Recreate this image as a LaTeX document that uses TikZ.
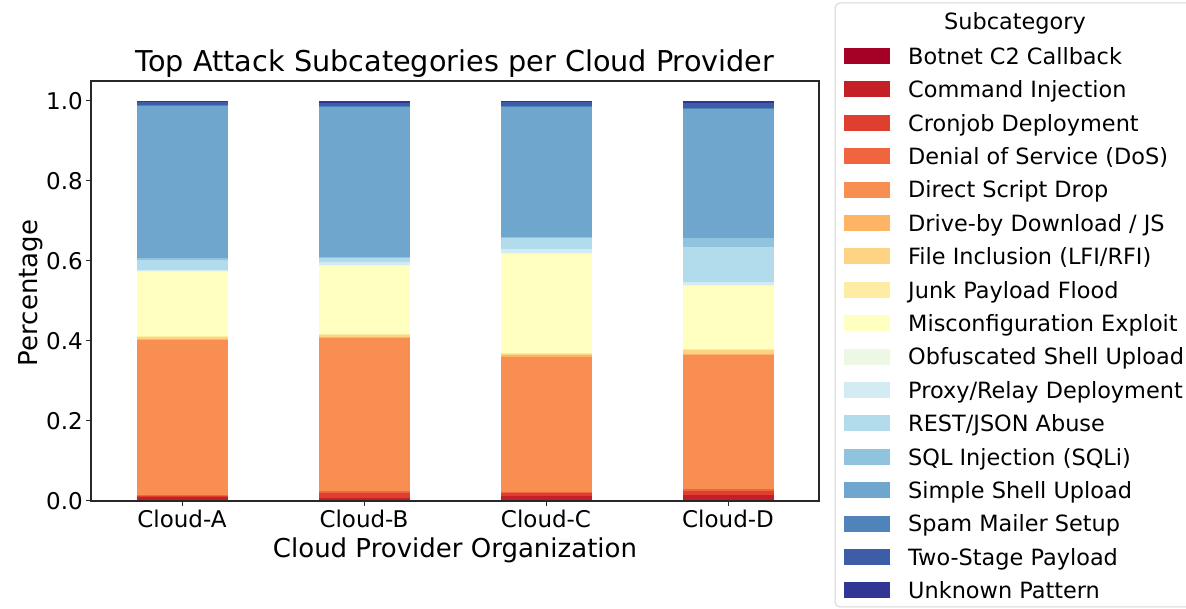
\documentclass[tikz,border=0pt]{standalone}
\usepackage{fontspec}
\setmainfont{DejaVu Sans}
% RdYlBu palette, 17 steps
\definecolor{c1}{RGB}{165,0,38}
\definecolor{c2}{RGB}{196,30,39}
\definecolor{c3}{RGB}{222,63,46}
\definecolor{c4}{RGB}{240,101,63}
\definecolor{c5}{RGB}{249,142,82}
\definecolor{c6}{RGB}{253,180,103}
\definecolor{c7}{RGB}{254,212,132}
\definecolor{c8}{RGB}{254,236,162}
\definecolor{c9}{RGB}{255,255,191}
\definecolor{c10}{RGB}{236,248,227}
\definecolor{c11}{RGB}{211,236,244}
\definecolor{c12}{RGB}{178,220,235}
\definecolor{c13}{RGB}{144,195,221}
\definecolor{c14}{RGB}{110,166,205}
\definecolor{c15}{RGB}{81,131,187}
\definecolor{c16}{RGB}{62,93,168}
\definecolor{c17}{RGB}{49,54,149}
\definecolor{spine}{RGB}{40,40,40}
\definecolor{legframe}{RGB}{214,214,214}
\tikzset{
  ticklab/.style={inner sep=0pt, font=\fontsize{23}{23}\selectfont},
  axlab/.style={inner sep=0pt, font=\fontsize{26}{26}\selectfont},
  titlelab/.style={inner sep=0pt, font=\fontsize{28.7}{28.7}\selectfont},
  leglab/.style={inner sep=0pt, anchor=base west, font=\fontsize{22.4}{22.4}\selectfont},
  tickline/.style={draw=spine, line width=1pt},
}
\begin{document}
\begin{tikzpicture}[x=1pt,y=1pt]
\useasboundingbox (0,0) rectangle (1186,609);
\fill[white] (0,0) rectangle (1186,609);

% stacked bars: cumulative tops of the 17 subcategories (value v sits at y = 108 + 400 v)
\foreach \cx/\tops in {
  182/{0.003,0.010,0.014,0.016,0.4025,0.405,0.4115,0.413,0.573,0.574,0.577,0.603,0.608,0.988,0.989,0.997,1.0},
  364/{0.002,0.007,0.019,0.025,0.408,0.411,0.416,0.418,0.590,0.591,0.597,0.607,0.609,0.9875,0.988,0.996,1.0},
  546/{0.002,0.0125,0.019,0.023,0.361,0.364,0.369,0.371,0.617,0.619,0.629,0.659,0.660,0.986,0.987,0.998,1.0},
  728/{0.003,0.015,0.025,0.029,0.365,0.368,0.3775,0.379,0.538,0.540,0.547,0.634,0.657,0.982,0.983,0.994,1.0}}{
  \foreach \t [count=\i, remember=\t as \lo (initially 0)] in \tops {
    \fill[c\i] ({\cx-45.5},{108+400*\lo}) rectangle ({\cx+45.5},{108+400*\t});
  }
}

% axes frame
\draw[spine, line width=1.1pt] (91,108) rectangle (819,528);

% y axis ticks and labels
\foreach \v/\lab [count=\k] in {0/0.0,0.2/0.2,0.4/0.4,0.6/0.6,0.8/0.8,1/1.0}{
  \draw[tickline] (91,{108+400*\v}) -- (86,{108+400*\v});
  \node[ticklab, anchor=east] (ytick\k) at (83,{108+400*\v}) {\lab};
}

% x axis ticks and labels
\foreach \cx/\lab [count=\k] in {182/Cloud-A,364/Cloud-B,546/Cloud-C,728/Cloud-D}{
  \draw[tickline] (\cx,108) -- (\cx,103);
  \node[ticklab, anchor=north] (xtick\k) at (\cx,99) {\lab};
}

% titles
\node[titlelab, anchor=base] (title) at (455,537) {Top Attack Subcategories per Cloud Provider};
\node[axlab, anchor=base] (xlabel) at (455,51) {Cloud Provider Organization};
\node[axlab, anchor=base, rotate=90] (ylabel) at (37,316) {Percentage};

% legend
\draw[legframe, fill=white, line width=1pt, rounded corners=5pt] (835,2) rectangle (1200,606);
\node[leglab, anchor=base] (legtitle) at (1015,579) {Subcategory};
\foreach \lab [count=\i] in {Botnet C2 Callback, Command Injection, Cronjob Deployment,
  Denial of Service (DoS), Direct Script Drop, Drive-by Download / JS, File Inclusion (LFI/RFI),
  Junk Payload Flood, Misconfiguration Exploit, Obfuscated Shell Upload, Proxy/Relay Deployment,
  REST/JSON Abuse, SQL Injection (SQLi), Simple Shell Upload, Spam Mailer Setup,
  Two-Stage Payload, Unknown Pattern}{
  \pgfmathsetmacro\ry{609-56-33.4*(\i-1)}
  \fill[c\i] (844,{\ry-8}) rectangle (890,{\ry+8});
  \node[leglab] (leg\i) at (908,{\ry-8.3}) {\lab};
}
\end{tikzpicture}
\end{document}
